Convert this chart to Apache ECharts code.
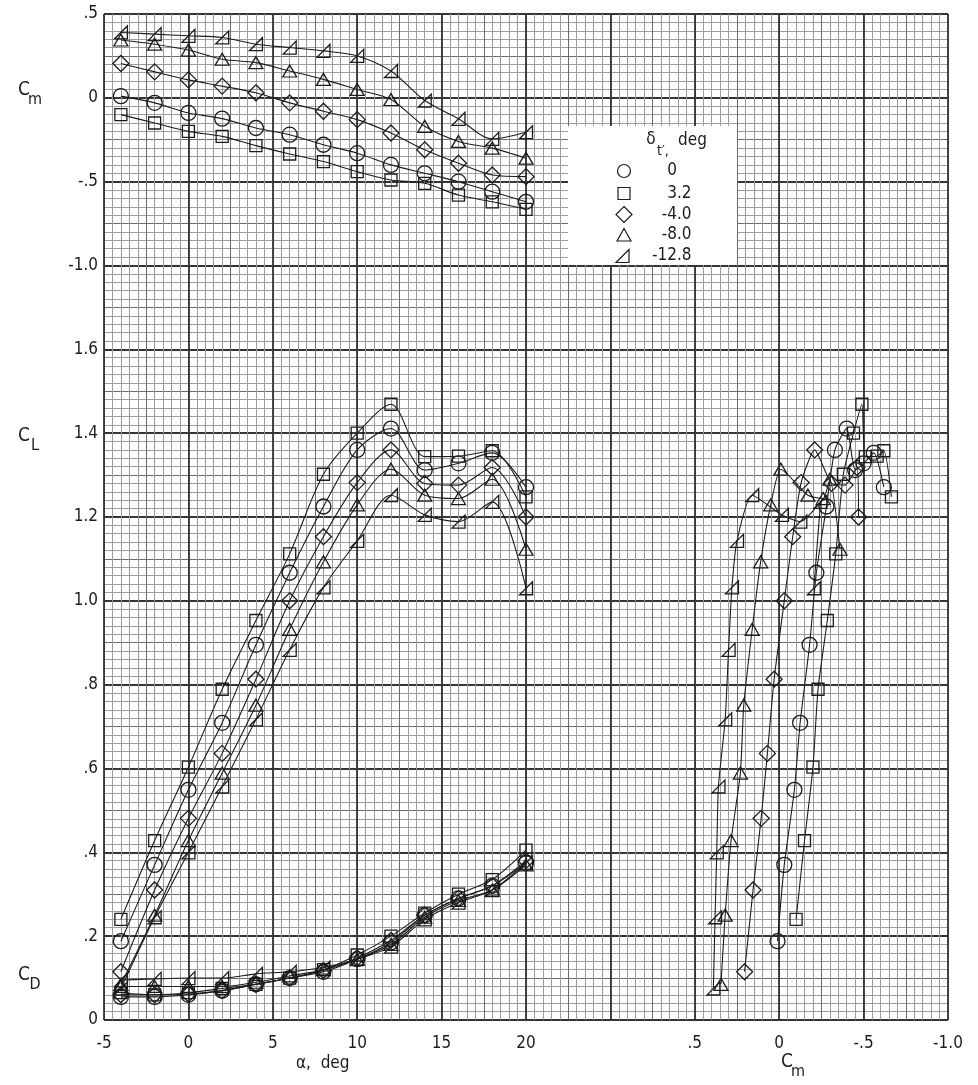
<!DOCTYPE html>
<html>
<head>
<meta charset="utf-8">
<script src="https://cdn.jsdelivr.net/npm/echarts@6/dist/echarts.min.js"></script>
<style>
  html, body { margin: 0; padding: 0; background: #fff; }
  #chart { width: 978px; height: 1085px; }
</style>
</head>
<body>
<div id="chart"></div>
<script>
// Angle of attack, deg
const alpha = [-4, -2, 0, 2, 4, 6, 8, 10, 12, 14, 16, 18, 20];

// Tail deflection settings (legend labels)
const deflections = ['0', '3.2', '-4.0', '-8.0', '-12.8'];

// Pitching-moment coefficient Cm for each deflection
const cm_0     = [0.01, -0.03, -0.09, -0.124, -0.18, -0.22, -0.28, -0.33, -0.40, -0.45, -0.50, -0.56, -0.62];
const cm_3p2   = [-0.10, -0.15, -0.20, -0.23, -0.285, -0.335, -0.38, -0.44, -0.49, -0.51, -0.58, -0.62, -0.665];
const cm_m4    = [0.205, 0.155, 0.107, 0.07, 0.03, -0.03, -0.08, -0.13, -0.21, -0.31, -0.39, -0.46, -0.47];
const cm_m8    = [0.345, 0.32, 0.285, 0.23, 0.21, 0.16, 0.11, 0.05, -0.01, -0.17, -0.26, -0.30, -0.36];
const cm_m12p8 = [0.39, 0.38, 0.37, 0.36, 0.32, 0.30, 0.28, 0.25, 0.16, -0.016, -0.125, -0.245, -0.205];

// Lift coefficient CL for each deflection
const cl_0     = [0.188, 0.37, 0.549, 0.709, 0.895, 1.067, 1.225, 1.36, 1.411, 1.312, 1.328, 1.353, 1.271];
const cl_3p2   = [0.24, 0.428, 0.603, 0.789, 0.953, 1.112, 1.302, 1.40, 1.469, 1.344, 1.345, 1.358, 1.248];
const cl_m4    = [0.115, 0.31, 0.481, 0.636, 0.813, 1.0, 1.153, 1.282, 1.36, 1.28, 1.276, 1.318, 1.20];
const cl_m8    = [0.085, 0.25, 0.428, 0.589, 0.751, 0.932, 1.093, 1.229, 1.314, 1.252, 1.244, 1.29, 1.123];
const cl_m12p8 = [0.075, 0.245, 0.40, 0.557, 0.717, 0.883, 1.032, 1.143, 1.252, 1.205, 1.189, 1.236, 1.03];

// Drag coefficient CD for each deflection
const cd_0     = [0.055, 0.055, 0.06, 0.07, 0.085, 0.10, 0.115, 0.145, 0.185, 0.25, 0.29, 0.32, 0.375];
const cd_3p2   = [0.065, 0.06, 0.065, 0.075, 0.085, 0.10, 0.12, 0.155, 0.20, 0.255, 0.30, 0.335, 0.405];
const cd_m4    = [0.06, 0.06, 0.062, 0.07, 0.085, 0.10, 0.118, 0.148, 0.19, 0.25, 0.29, 0.32, 0.38];
const cd_m8    = [0.08, 0.08, 0.08, 0.08, 0.09, 0.105, 0.12, 0.145, 0.18, 0.245, 0.285, 0.31, 0.37];
const cd_m12p8 = [0.095, 0.098, 0.10, 0.10, 0.11, 0.115, 0.125, 0.145, 0.175, 0.24, 0.28, 0.31, 0.375];

const cmSets = [cm_0, cm_3p2, cm_m4, cm_m8, cm_m12p8];
const clSets = [cl_0, cl_3p2, cl_m4, cl_m8, cl_m12p8];
const cdSets = [cd_0, cd_3p2, cd_m4, cd_m8, cd_m12p8];

// Axis tick values
const alphaTicks = [-5, 0, 5, 10, 15, 20];

// ---- layout of the graph paper (pixels) ----
const L = 104, T = 14, DX = 84.4, DY = 83.83;
const INK = '#1c1c1c';
const FONT = "'Liberation Sans Narrow', 'DejaVu Sans Condensed', 'Liberation Sans', sans-serif";

// open plotting symbols, one per deflection
const FLAG_TRI = 'path://M0,10 L10,10 L10,0 Z';
const symbols = ['circle', 'rect', 'diamond', 'triangle', FLAG_TRI];
const symbolSizes = [15, 12, 16, [14, 12], [13, 13]];

function tickLabel(v) {
  const r = Math.round(v * 10) / 10;
  if (r === 0) return '0';
  const s = r.toFixed(1);
  return Math.abs(r) < 1 ? s.replace('0.', '.') : s;
}

const hidden = { axisLine: { show: false }, axisTick: { show: false }, axisLabel: { show: false } };
const labelStyle = { color: INK, fontSize: 17, fontFamily: FONT };

const grids = [
  { left: L, top: T, width: 10 * DX, height: 12 * DY },               // paper
  { left: L, top: T, width: 5 * DX, height: 3 * DY },                 // Cm vs alpha
  { left: L, top: T + 4 * DY, width: 5 * DX, height: 8 * DY },        // CL, CD vs alpha
  { left: L + 7 * DX, top: T + 4 * DY, width: 3 * DX, height: 8 * DY } // CL vs Cm
];

const xAxes = [
  Object.assign({ gridIndex: 0, type: 'value', min: 0, max: 20, interval: 1,
    splitLine: { show: true, lineStyle: { color: '#6c6c6c', width: 1 } },
    minorTick: { show: false, splitNumber: 5 },
    minorSplitLine: { show: true, lineStyle: { color: '#9c9c9c', width: 1 } } }, hidden),
  Object.assign({ gridIndex: 0, type: 'value', min: 0, max: 10, interval: 1,
    splitLine: { show: true, lineStyle: { color: '#353535', width: 1.8 } } }, hidden),
  Object.assign({ gridIndex: 1, type: 'value', min: -5, max: 20, splitLine: { show: false } }, hidden),
  { gridIndex: 2, type: 'value', min: -5, max: 20, interval: 5,
    axisLine: { show: false }, axisTick: { show: false }, splitLine: { show: false },
    axisLabel: Object.assign({ margin: 15, showMinLabel: true, showMaxLabel: true,
      formatter: v => alphaTicks.includes(v) ? String(v) : '' }, labelStyle) },
  { gridIndex: 3, type: 'value', min: -1.0, max: 0.5, interval: 0.5, inverse: true,
    axisLine: { show: false }, axisTick: { show: false }, splitLine: { show: false },
    axisLabel: Object.assign({ margin: 15, showMinLabel: true, showMaxLabel: true,
      formatter: tickLabel }, labelStyle) }
];

const yAxes = [
  Object.assign({ gridIndex: 0, type: 'value', min: 0, max: 24, interval: 1,
    splitLine: { show: true, lineStyle: { color: '#6c6c6c', width: 1 } },
    minorTick: { show: false, splitNumber: 5 },
    minorSplitLine: { show: true, lineStyle: { color: '#9c9c9c', width: 1 } } }, hidden),
  Object.assign({ gridIndex: 0, type: 'value', min: 0, max: 12, interval: 1,
    splitLine: { show: true, lineStyle: { color: '#353535', width: 1.8 } } }, hidden),
  { gridIndex: 1, type: 'value', min: -1.0, max: 0.5, interval: 0.5,
    axisLine: { show: false }, axisTick: { show: false }, splitLine: { show: false },
    axisLabel: Object.assign({ margin: 6, showMinLabel: true, showMaxLabel: true,
      formatter: tickLabel }, labelStyle) },
  { gridIndex: 2, type: 'value', min: 0, max: 1.6, interval: 0.2,
    axisLine: { show: false }, axisTick: { show: false }, splitLine: { show: false },
    axisLabel: Object.assign({ margin: 6, showMinLabel: true, showMaxLabel: true,
      formatter: tickLabel }, labelStyle) },
  Object.assign({ gridIndex: 3, type: 'value', min: 0, max: 1.6, splitLine: { show: false } }, hidden)
];

function lineSeries(name, k, axisIdx, data, smooth) {
  return {
    name: name, type: 'line', xAxisIndex: axisIdx, yAxisIndex: axisIdx,
    data: data, smooth: smooth, showAllSymbol: true,
    symbol: symbols[k], symbolSize: symbolSizes[k],
    lineStyle: { color: INK, width: 1.1 },
    itemStyle: { color: 'rgba(255,255,255,0)', borderColor: INK, borderWidth: 1.3 },
    emphasis: { disabled: true }, silent: true, z: 3
  };
}

const series = [];
deflections.forEach((d, k) => {
  const cm = cmSets[k], cl = clSets[k], cd = cdSets[k];
  series.push(lineSeries(d + ' Cm', k, 2, alpha.map((a, i) => [a, cm[i]]), 0.3));
  series.push(lineSeries(d + ' CL', k, 3, alpha.map((a, i) => [a, cl[i]]), 0.3));
  series.push(lineSeries(d + ' CD', k, 3, alpha.map((a, i) => [a, cd[i]]), 0.3));
  series.push(lineSeries(d + ' CL-Cm', k, 4, alpha.map((a, i) => [cm[i], cl[i]]), 0.2));
});

// axis titles with subscripts
function subTitle(x, y, main, sub) {
  return [
    { type: 'text', x: x, y: y, style: { text: main, fill: INK, font: '19px ' + FONT, textAlign: 'center', textVerticalAlign: 'middle' } },
    { type: 'text', x: x + 11, y: y + 10, style: { text: sub, fill: INK, font: '16px ' + FONT, textAlign: 'center', textVerticalAlign: 'middle' } }
  ];
}

// legend box
const LX = 568, LY = 126;
const legendEls = [
  { type: 'rect', shape: { x: LX, y: LY, width: 169, height: 139 }, style: { fill: '#fff' }, z: 50 },
  { type: 'text', x: 651, y: 140, z: 51, style: { text: 'δ', fill: INK, font: '17px ' + FONT, textAlign: 'center', textVerticalAlign: 'middle' } },
  { type: 'text', x: 657, y: 151, z: 51, style: { text: "t′,", fill: INK, font: '14px ' + FONT, textAlign: 'left', textVerticalAlign: 'middle' } },
  { type: 'text', x: 678, y: 141, z: 51, style: { text: 'deg', fill: INK, font: '17px ' + FONT, textAlign: 'left', textVerticalAlign: 'middle' } }
];
const rowY = [171, 193.5, 214.5, 235, 256];
const symStyle = { fill: 'none', stroke: INK, lineWidth: 1.2 };
const SX = 624;
legendEls.push({ type: 'circle', z: 51, shape: { cx: SX, cy: rowY[0], r: 6.5 }, style: symStyle });
legendEls.push({ type: 'rect', z: 51, shape: { x: SX - 6, y: rowY[1] - 6, width: 12, height: 12 }, style: symStyle });
legendEls.push({ type: 'polygon', z: 51, shape: { points: [[SX, rowY[2] - 8], [SX + 8, rowY[2]], [SX, rowY[2] + 8], [SX - 8, rowY[2]]] }, style: symStyle });
legendEls.push({ type: 'polygon', z: 51, shape: { points: [[SX, rowY[3] - 6.5], [SX + 7, rowY[3] + 6], [SX - 7, rowY[3] + 6]] }, style: symStyle });
legendEls.push({ type: 'polygon', z: 51, shape: { points: [[SX - 8, rowY[4] + 6.5], [SX + 5, rowY[4] + 6.5], [SX + 5, rowY[4] - 6.5]] }, style: symStyle });
deflections.forEach((d, k) => {
  const parts = d.split('.');
  legendEls.push({ type: 'text', x: 677, y: rowY[k], z: 51, style: { text: parts[0], fill: INK, font: '17px ' + FONT, textAlign: 'right', textVerticalAlign: 'middle' } });
  if (parts.length > 1) {
    legendEls.push({ type: 'text', x: 677, y: rowY[k], z: 51, style: { text: '.' + parts[1], fill: INK, font: '17px ' + FONT, textAlign: 'left', textVerticalAlign: 'middle' } });
  }
});

const graphics = []
  .concat(subTitle(24, 90, 'C', 'm'))
  .concat(subTitle(24, 436, 'C', 'L'))
  .concat(subTitle(24, 975, 'C', 'D'))
  .concat(subTitle(787, 1062, 'C', 'm'))
  .concat([{ type: 'text', x: 296, y: 1064, style: { text: 'α,  deg', fill: INK, font: '17px ' + FONT, textAlign: 'left', textVerticalAlign: 'middle' } }])
  .concat(legendEls);

const chart = echarts.init(document.getElementById('chart'), null, { renderer: 'canvas' });
chart.setOption({
  animation: false,
  backgroundColor: '#fff',
  grid: grids,
  xAxis: xAxes,
  yAxis: yAxes,
  series: series,
  graphic: graphics
});
</script>
</body>
</html>
